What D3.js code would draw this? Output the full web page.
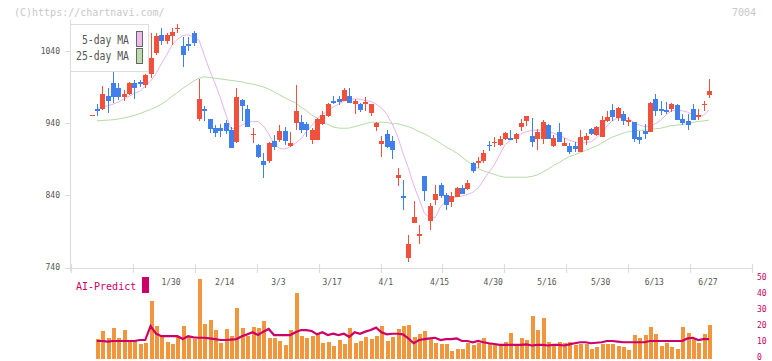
<!DOCTYPE html>
<html><head><meta charset="utf-8">
<script src="https://cdn.jsdelivr.net/npm/d3@7"></script>
<style>body{margin:0;background:#fff}svg{display:block}text{font-family:"DejaVu Sans Mono",monospace}</style>
</head><body><svg id="c" width="772" height="361"></svg>
<script>
// ---- data ----
const open  = [951,959,959,977,995,988,976,980,995,997,993,1008,1037,1062,1053,1060,1071,1046,1049,1065,946,959,946,933,933,940,930,914,972,959,924,910,887,887,915,916,929,908,940,942,939,916,916,939,950,970,973,970,977,966,966,966,954,934,911,925,915,864,839,753,802,784,867,804,833,854,840,831,838,850,849,885,885,887,910,912,910,918,919,918,934,943,922,918,918,937,908,928,908,908,908,900,916,932,923,921,943,958,947,952,941,941,921,929,928,973,959,958,959,965,946,943,959,948,965,979];
const high  = [951,966,991,988,1012,995,986,997,1000,1000,1008,1064,1065,1071,1065,1071,1077,1059,1059,1067,1001,963,946,937,939,944,934,988,973,965,933,911,899,914,923,937,934,928,993,951,942,933,947,956,967,977,977,988,988,973,968,976,966,941,922,930,922,878,861,785,832,799,867,829,854,857,843,844,851,854,861,886,893,903,915,921,922,928,930,926,946,950,947,932,944,939,923,940,919,912,914,930,926,933,936,950,957,966,962,957,948,941,929,939,969,980,970,969,968,966,952,952,966,959,970,1001];
const low   = [951,950,958,954,968,972,970,979,973,990,989,1002,1034,1048,1050,1048,1065,1018,1039,1046,943,943,926,920,921,925,906,913,943,935,912,891,864,885,903,914,910,907,930,926,921,911,916,937,948,966,965,970,968,952,955,957,950,929,893,905,890,853,820,748,802,773,832,792,827,836,820,824,838,842,847,871,878,885,901,907,908,916,916,912,929,936,907,903,911,918,907,914,908,897,900,900,910,923,922,921,941,943,943,937,936,914,911,918,928,950,951,952,955,944,937,930,944,944,957,975];
const close = [951,956,980,971,976,976,980,995,988,994,1006,1030,1060,1053,1062,1066,1072,1034,1046,1051,973,957,932,926,929,929,906,976,964,935,925,893,882,912,907,929,915,912,957,930,931,930,946,951,966,968,969,986,968,970,958,969,966,940,915,907,903,868,836,773,810,786,846,825,842,839,827,839,850,842,857,874,887,898,908,914,918,926,916,925,940,950,914,928,941,918,919,914,912,900,904,921,922,925,934,944,948,948,961,943,944,918,916,925,968,957,957,955,966,944,940,937,944,951,966,984];
const ma5   = [null,960,962,964,966,969,973,977,981,984,991,998,1008,1022,1034,1048,1056,1061,1062,1059,1055,1034,1013,995,975,952,932,933,937,941,942,942,936,925,911,905,904,907,912,918,928,936,946,952,957,962,966,970,973,973,973,971,970,966,961,952,939,922,898,878,854,835,815,809,809,824,832,836,838,839,841,844,850,861,872,882,896,910,916,920,925,928,930,930,930,928,926,923,920,916,914,912,913,914,919,926,936,943,947,947,946,941,937,935,936,939,944,951,957,958,957,955,951,949,951,958];
const ma25  = [null,943,943.5,944,944.5,945.5,947,948.5,950.5,953,956,958.5,962,966,971,977,982,988,993,998,1002,1004,1003,1002,1001,1000,999,998,997,995,994,992,990,987,983,979,975,971,968,962,957,951,947,942,938,934.5,933,932.7,933,935,937,939,941,941,941,941,939,939,937,935,932,928,925,921,916.5,912,907,903,898.5,893,887,882,877,873.5,871.5,869,866.5,865,865,865,865,865,866,868,872,876,881,885,889.5,893.6,896,899,902,905,908,912,916.5,920.6,923,926,928,929,930,930,931,932,932.7,934.5,936.5,937,938,939,941,942,943,944];
const volume = [null,12.1,17.1,12.7,19.0,12.7,17.7,10.9,10.9,9.0,9.6,35.8,20.2,14.6,10.3,9.0,14.0,20.2,13.4,12.1,49.5,21.5,24.0,17.7,9.6,18.3,14.0,31.4,19.0,14.0,19.6,19.0,23.3,12.7,12.7,10.9,8.4,17.7,40.8,14.0,12.7,14.0,15.2,9.6,10.3,7.8,11.5,9.0,19.0,9.6,10.9,13.4,12.1,14.0,20.2,10.9,13.4,18.3,20.2,20.8,13.4,15.2,17.1,12.1,9.6,9.0,9.0,4.6,5.8,5.8,9.6,8.4,9.6,12.7,9.6,8.4,7.8,10.3,15.8,8.4,12.7,11.5,26.4,17.7,25.2,10.3,8.4,10.3,9.6,10.3,8.4,9.0,9.0,6.0,7.0,9.0,9.0,9.0,7.8,7.0,5.5,14.6,12.7,14.6,19.6,15.2,7.8,9.6,7.0,5.8,19.6,15.8,12.0,9.6,15.0,20.8];
const predict = [null,10.9,10.9,10.5,10.9,10.9,10.9,10.9,10.9,11.5,11.5,20.2,15.5,13.9,13.9,13.9,13.9,12.1,13.9,13.2,12.9,12.9,12.5,12.1,11.5,11.5,11.8,12.1,13.9,15.0,16.3,14.6,16.7,18.4,14.6,14.6,14.6,14.6,16.3,17.7,17.7,17.1,15.0,16.3,14.6,15.4,14.6,15.4,13.5,16.3,15.4,16.7,17.7,19.2,16.3,15.0,15.4,15.4,15.0,12.5,9.5,11.5,12.1,12.5,12.9,11.5,12.1,12.1,12.5,10.9,10.9,10.1,10.9,10.1,9.5,9.0,8.5,8.5,8.5,8.5,8.5,8.8,8.1,8.5,8.5,8.1,8.5,8.5,8.1,8.8,9.5,10.1,10.1,9.5,9.8,10.1,10.9,10.9,10.5,10.1,10.1,10.1,10.1,10.1,10.9,10.9,10.9,10.9,10.9,10.9,10.9,12.5,12.9,11.5,12.1,12.1];
const dateLabels = ["1/30","2/14","3/3","3/17","4/1","4/15","4/30","5/16","5/30","6/13","6/27"];
const dateLabelIdx = [15,25,35,45,55,65,75,85,95,105,115];
const priceTicks = [740,840,940,1040];
const volTicks = [0,10,20,30,40,50];

// ---- drawing ----
const svg = d3.select("#c");
const N = close.length;
const x = d3.scaleLinear().domain([0, N-1]).range([91.5, 709]);
const y = d3.scaleLinear().domain([740, 1040]).range([267.5, 50.75]);
const yv = d3.scaleLinear().domain([0, 50]).range([358.5, 278.15]);
const RED = "#f0503c", BLUE = "#4080ec", GRID = "#dddddd", LBL = "#555";

svg.append("rect").attr("width",772).attr("height",361).attr("fill","#fff");
svg.append("text").attr("x",14).attr("y",16).attr("font-size",10).attr("fill","#c8c8c8").text("(C)https://chartnavi.com/");
svg.append("text").attr("x",756).attr("y",16).attr("text-anchor","end").attr("font-size",10).attr("fill","#c8c8c8").text("7004");

// axes
svg.append("line").attr("x1",70.5).attr("x2",70.5).attr("y1",20).attr("y2",271).attr("stroke",GRID).attr("stroke-width",1.2);
svg.append("line").attr("x1",70).attr("x2",752.5).attr("y1",268.5).attr("y2",268.5).attr("stroke",GRID).attr("stroke-width",1.2);
const gy = svg.append("g");
priceTicks.forEach(t => {
  gy.append("line").attr("x1",65).attr("x2",70).attr("y1",Math.round(y(t))+0.5).attr("y2",Math.round(y(t))+0.5).attr("stroke",GRID);
  gy.append("text").attr("x",60).attr("y",y(t)).attr("dy","0.35em").attr("text-anchor","end").attr("font-size",8).attr("fill",LBL).text(t);
});
const xt = d3.scaleLinear().domain([0,11]).range([70.7,752.3]);
d3.range(12).forEach(k => {
  svg.append("line").attr("x1",Math.round(xt(k))+0.5).attr("x2",Math.round(xt(k))+0.5).attr("y1",264).attr("y2",273).attr("stroke",GRID).attr("stroke-width",1.2);
});
dateLabelIdx.forEach((d,k) => {
  svg.append("text").attr("x",x(d)-1).attr("y",285).attr("text-anchor","middle").attr("font-size",8).attr("fill",LBL).text(dateLabels[k]);
});

// MA lines
const line = d3.line().defined(d => d != null).x((d,i) => x(i)).y(d => y(d));
svg.append("path").attr("d", line(ma25)).attr("fill","none").attr("stroke","#b4dca4").attr("stroke-width",1);
svg.append("path").attr("d", line(ma5)).attr("fill","none").attr("stroke","#e8b4ec").attr("stroke-width",1);

// candles
const cg = svg.append("g").attr("shape-rendering","crispEdges");
for (let i = 0; i < N; i++) {
  const up = close[i] >= open[i];
  const col = up ? RED : BLUE;
  const cx = Math.round(x(i));
  cg.append("line").attr("x1",cx+0.5).attr("x2",cx+0.5).attr("y1",y(high[i])).attr("y2",y(low[i])).attr("stroke",col);
  const top = y(Math.max(open[i],close[i])), bot = y(Math.min(open[i],close[i]));
  cg.append("rect").attr("x",cx-2).attr("width",5).attr("y",top).attr("height",Math.max(1.2,bot-top)).attr("fill",col);
}

// legend
svg.append("rect").attr("x",70.5).attr("y",24.5).attr("width",78).attr("height",47).attr("fill","#fff").attr("stroke",GRID);
svg.append("text").attr("x",129).attr("y",44).attr("text-anchor","end").attr("font-size",11.5).attr("textLength",47).attr("lengthAdjust","spacingAndGlyphs").attr("fill",LBL).text("5-day MA");
svg.append("text").attr("x",129).attr("y",60).attr("text-anchor","end").attr("font-size",11.5).attr("textLength",53).attr("lengthAdjust","spacingAndGlyphs").attr("fill",LBL).text("25-day MA");
svg.append("rect").attr("x",136.5).attr("y",31.5).attr("width",6).attr("height",15).attr("fill","#ecbcec").attr("stroke","#666");
svg.append("rect").attr("x",136.5).attr("y",48.5).attr("width",6).attr("height",15).attr("fill","#bcdcac").attr("stroke","#666");

// volume panel
const vg = svg.append("g").attr("shape-rendering","crispEdges");
volume.forEach((v,i) => {
  if (v == null) return;
  vg.append("rect").attr("x",Math.round(x(i))-1.5).attr("width",4).attr("y",yv(v)).attr("height",yv(0)-yv(v)+0.5).attr("fill","#f2963e");
});
const pline = d3.line().defined(d => d != null).x((d,i) => x(i)).y(d => yv(d));
svg.append("path").attr("d", pline(predict)).attr("fill","none").attr("stroke","#cc0066").attr("stroke-width",2.2);
volTicks.forEach(t => {
  svg.append("text").attr("x",757).attr("y",yv(t)-0.5).attr("dy","0.3em").attr("font-size",8).attr("fill","#cc0066").text(t);
});
svg.append("text").attr("x",76).attr("y",290).attr("font-size",10).attr("fill","#cc0066").text("AI-Predict");
svg.append("rect").attr("x",142).attr("y",277).attr("width",7).attr("height",16).attr("fill","#cc0066");
</script></body></html>
